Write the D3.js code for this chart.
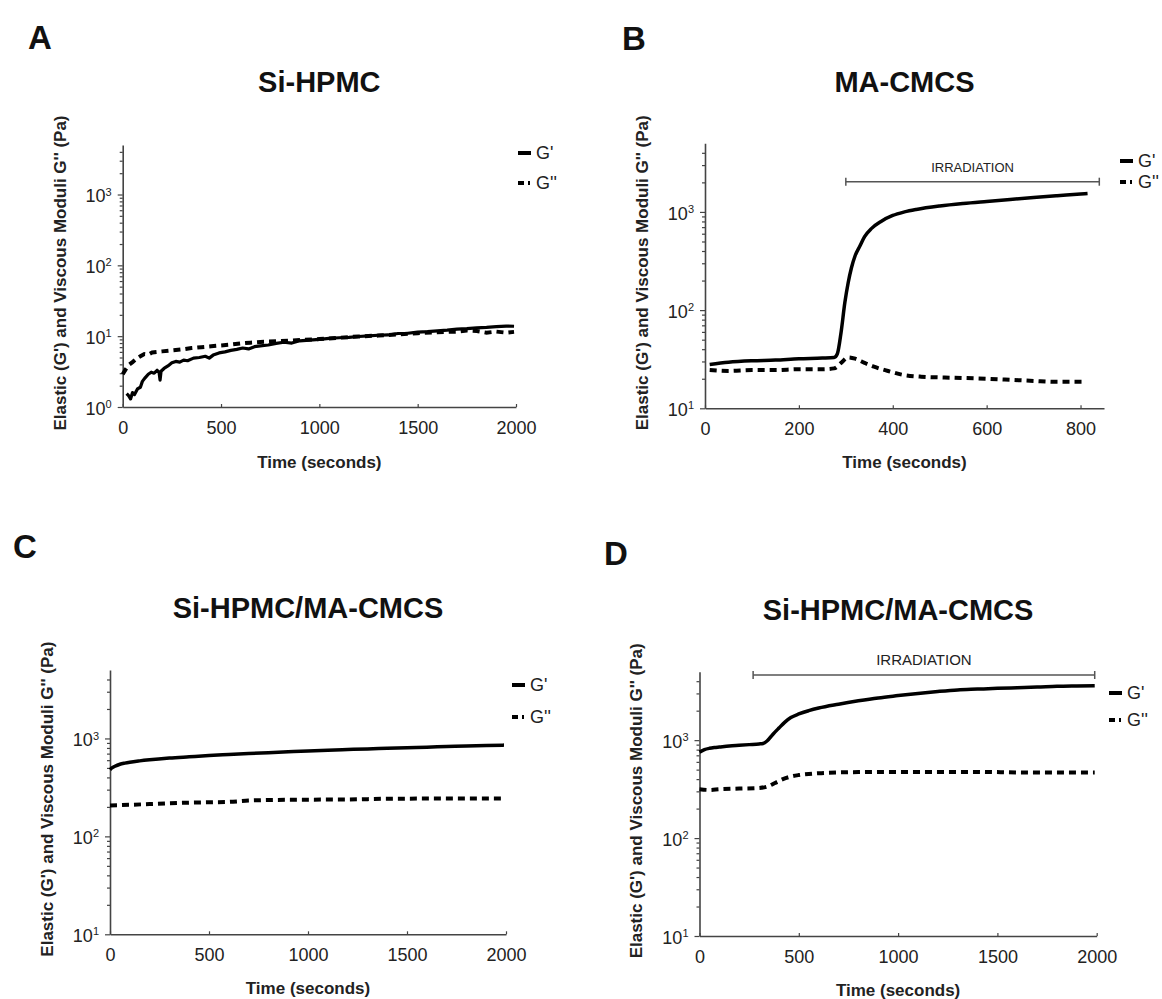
<!DOCTYPE html>
<html>
<head>
<meta charset="utf-8">
<script src="https://cdn.jsdelivr.net/npm/d3@7"></script>
<style>
  body { margin: 0; background: #fff; }
  svg { display: block; font-family: "Liberation Sans", Arial, sans-serif; }
</style>
</head>
<body>
<svg id="fig" width="1162" height="999"></svg>
<script>
// ---- data: [time (s), modulus (Pa)] ----
const siHpmcGp = [[20,1.55],[30,1.45],[40,1.3],[50,1.6],[60,1.5],[75,1.8],[90,1.9],[100,2.3],[115,2.6],[130,2.9],
  [145,3.1],[160,3.0],[175,3.3],[185,3.1],[190,2.4],[195,3.2],[210,3.5],[230,3.8],[250,4.2],[270,4.4],[290,4.3],
  [310,4.6],[330,4.5],[360,4.9],[390,5.0],[420,5.2],[440,4.9],[460,5.4],[490,5.8],[520,6.0],[550,6.3],[580,6.5],
  [610,6.8],[640,6.6],[670,7.1],[700,7.3],[740,7.5],[780,7.9],[820,8.2],[860,8.0],[900,8.6],[950,8.8],[1000,9.0],
  [1050,9.3],[1100,9.5],[1150,9.6],[1200,9.9],[1250,10.1],[1300,10.3],[1350,10.4],[1400,10.9],[1450,11.0],
  [1500,11.4],[1550,11.6],[1600,11.9],[1650,12.2],[1700,12.6],[1750,12.8],[1800,13.1],[1850,13.3],[1900,13.6],
  [1950,13.9],[1990,13.8]];
const siHpmcGpp = [[0,2.9],[15,3.4],[30,3.9],[50,4.3],[70,4.8],[90,5.2],[110,5.6],[130,5.5],[150,5.9],[175,6.0],
  [200,6.1],[250,6.3],[300,6.5],[350,6.8],[400,7.0],[450,7.2],[500,7.4],[550,7.6],[600,7.9],[650,8.1],[700,8.3],
  [800,8.5],[900,8.8],[1000,9.1],[1100,9.5],[1200,9.9],[1300,10.2],[1400,10.6],[1500,11.0],[1600,11.4],
  [1700,11.6],[1750,12.0],[1800,11.8],[1850,11.2],[1900,11.6],[1950,11.2],[1990,11.5]];

const maCmcsGp = [[10,28],[50,29.5],[100,30.5],[150,31],[200,32],[250,32.5],[275,33],[282,36],[290,60],[298,120],
  [305,190],[312,270],[320,360],[330,450],[340,560],[355,680],[375,800],[400,920],[425,1000],[450,1060],
  [500,1150],[550,1220],[600,1280],[650,1340],[700,1400],[750,1460],[800,1520],[815,1540]];
const maCmcsGpp = [[10,24.5],[50,24],[100,24.5],[150,24.5],[200,25],[250,25],[275,25.5],[290,29],[305,33],
  [320,32],[340,29],[360,26.5],[390,24],[420,22],[460,21],[525,20.5],[600,20],[650,19.5],[700,19],[750,18.6],[810,18.6]];

const blendGp = [[0,480],[10,500],[25,520],[50,545],[75,560],[100,572],[150,590],[200,605],[300,630],[400,650],
  [500,670],[600,685],[700,700],[800,715],[900,730],[1000,745],[1100,758],[1200,770],[1300,782],[1400,792],
  [1500,803],[1600,815],[1700,826],[1800,838],[1900,848],[1990,855]];
const blendGpp = [[0,207],[100,210],[200,214],[300,218],[400,221],[500,223],[600,225],[700,232],[800,235],
  [1000,237],[1200,238],[1400,242],[1600,243],[1800,243],[1990,243]];

const blendIrrGp = [[0,755],[25,800],[50,825],[75,840],[100,850],[150,870],[200,885],[250,900],[300,915],[320,925],
  [340,980],[370,1150],[400,1330],[430,1530],[460,1700],[500,1850],[550,2000],[600,2130],[700,2330],[800,2520],
  [900,2700],[1000,2850],[1100,3000],[1200,3140],[1300,3260],[1400,3320],[1500,3380],[1600,3430],[1700,3480],
  [1800,3550],[1900,3580],[1990,3600]];
const blendIrrGpp = [[0,315],[50,310],[100,315],[200,320],[300,325],[340,335],[380,365],[420,400],[460,425],
  [500,440],[550,452],[600,460],[700,468],[800,472],[1000,474],[1200,474],[1400,474],[1600,468],[1800,466],[1990,466]];

const panelLetters = ["A", "B", "C", "D"];
const panelTitles = ["Si-HPMC", "MA-CMCS", "Si-HPMC/MA-CMCS", "Si-HPMC/MA-CMCS"];
const xTickSets = [[0,500,1000,1500,2000],[0,200,400,600,800],[0,500,1000,1500,2000],[0,500,1000,1500,2000]];
const xMaxes = [2000, 850, 2000, 2000];
const yMins = [1, 10, 10, 10];
const yMax = 5000;
const irradiation = [null, [300, 840], null, [270, 1990]];
const legendLabels = ["G'", "G''"];
const yLabel = "Elastic (G') and Viscous Moduli G'' (Pa)";
const xLabel = "Time (seconds)";

// ---- layout ----
const layout = [
  {l:122.7, r:516, t:145, b:407, letter:[28,49], titleY:92, xLabY:468, legX:518, legY:[153,183], irrY:null, irrFs:13},
  {l:705, r:1104, t:143.3, b:408.3, letter:[622,50], titleY:92, xLabY:468, legX:1120, legY:[161,182], irrY:181.7, irrFs:13},
  {l:110, r:506, t:670, b:934.3, letter:[13,558], titleY:618, xLabY:994, legX:512, legY:[685,717], irrY:null, irrFs:13},
  {l:699.5, r:1096.7, t:671.7, b:936, letter:[604,565], titleY:620, xLabY:996, legX:1109, legY:[693,720], irrY:675, irrFs:15}
];
const series = [[siHpmcGp, siHpmcGpp], [maCmcsGp, maCmcsGpp], [blendGp, blendGpp], [blendIrrGp, blendIrrGpp]];

const svg = d3.select("#fig");
svg.append("rect").attr("width", 1162).attr("height", 999).attr("fill", "#fff");

const axisColor = "#444";
const dash = "7,5";

panelLetters.forEach((letter, i) => {
  const L = layout[i];
  const g = svg.append("g");

  const x = d3.scaleLinear().domain([0, xMaxes[i]]).range([L.l, L.r]);
  const y = d3.scaleLog().domain([yMins[i], yMax]).range([L.b, L.t]);

  // panel letter and title
  g.append("text").attr("x", L.letter[0]).attr("y", L.letter[1])
    .attr("font-size", 33).attr("font-weight", "bold").attr("fill", "#111").text(letter);
  g.append("text").attr("x", (L.l + L.r) / 2).attr("y", L.titleY)
    .attr("text-anchor", "middle").attr("font-size", 29).attr("font-weight", "bold").attr("fill", "#111")
    .text(panelTitles[i]);

  // y axis: decades with superscript labels, minor ticks in between
  const decades = d3.range(Math.log10(yMins[i]), 4).map(e => Math.pow(10, e));
  const minors = [];
  decades.forEach(d => d3.range(2, 10).forEach(k => { if (d * k < yMax) minors.push(d * k); }));

  const yMinor = g.append("g").attr("transform", `translate(${L.l},0)`)
    .call(d3.axisLeft(y).tickValues(minors).tickSize(3).tickFormat(""));
  const yAxis = g.append("g").attr("transform", `translate(${L.l},0)`)
    .call(d3.axisLeft(y).tickValues(decades).tickSize(5).tickSizeOuter(0).tickPadding(6));
  yAxis.selectAll(".tick text").each(function (d) {
    const e = Math.round(Math.log10(d));
    const t = d3.select(this).text("10").attr("dy", "0.4em");
    t.append("tspan").attr("dy", "-0.6em").attr("font-size", 11).text(e);
  });

  const xAxis = g.append("g").attr("transform", `translate(0,${L.b})`)
    .call(d3.axisBottom(x).tickValues(xTickSets[i]).tickFormat(d3.format("d"))
      .tickSize(-3).tickSizeOuter(0).tickPadding(14));

  [yMinor, yAxis, xAxis].forEach(a => {
    a.selectAll("path.domain").attr("stroke", axisColor).attr("stroke-width", 1.6);
    a.selectAll(".tick line").attr("stroke", axisColor).attr("stroke-width", 1.2);
  });
  yMinor.select("path.domain").remove();
  [yAxis, xAxis].forEach(a => a.selectAll(".tick text")
    .attr("font-size", 18).attr("fill", "#222").attr("font-family", "Liberation Sans, Arial, sans-serif"));

  // axis titles
  g.append("text")
    .attr("transform", `translate(${L.l - 63},${(L.t + L.b) / 2 - 3}) rotate(-90)`)
    .attr("text-anchor", "middle").attr("dy", "0.35em")
    .attr("font-size", 17).attr("font-weight", "bold").attr("fill", "#222").text(yLabel);
  g.append("text").attr("x", (L.l + L.r) / 2).attr("y", L.xLabY)
    .attr("text-anchor", "middle").attr("font-size", 17).attr("font-weight", "bold").attr("fill", "#222")
    .text(xLabel);

  // curves
  const line = d3.line().x(d => x(d[0])).y(d => y(d[1]))
    .curve(i === 0 ? d3.curveLinear : d3.curveMonotoneX);
  g.append("path").datum(series[i][0]).attr("d", line)
    .attr("fill", "none").attr("stroke", "#000").attr("stroke-width", i === 0 ? 3.2 : 3.5)
    .attr("stroke-linejoin", "round");
  g.append("path").datum(series[i][1]).attr("d", line)
    .attr("fill", "none").attr("stroke", "#000").attr("stroke-width", 4)
    .attr("stroke-dasharray", dash);

  // irradiation bar
  if (irradiation[i]) {
    const [a, b] = irradiation[i];
    const iy = L.irrY;
    const ig = g.append("g").attr("stroke", "#555").attr("stroke-width", 1.5);
    ig.append("line").attr("x1", x(a)).attr("x2", x(b)).attr("y1", iy).attr("y2", iy);
    [a, b].forEach(v => ig.append("line").attr("x1", x(v)).attr("x2", x(v)).attr("y1", iy - 4).attr("y2", iy + 4));
    g.append("text").attr("x", (x(a) + x(b)) / 2).attr("y", iy - 10)
      .attr("text-anchor", "middle").attr("font-size", L.irrFs).attr("fill", "#222").text("IRRADIATION");
  }

  // legend
  legendLabels.forEach((lab, k) => {
    const ly = L.legY[k];
    g.append("line").attr("x1", L.legX).attr("x2", L.legX + 13).attr("y1", ly).attr("y2", ly)
      .attr("stroke", "#000").attr("stroke-width", 4)
      .attr("stroke-dasharray", k === 0 ? null : "6,4,2,10");
    g.append("text").attr("x", L.legX + 18).attr("y", ly).attr("dy", "0.36em")
      .attr("font-size", 18).attr("fill", "#222").text(lab);
  });
});
</script>
</body>
</html>
